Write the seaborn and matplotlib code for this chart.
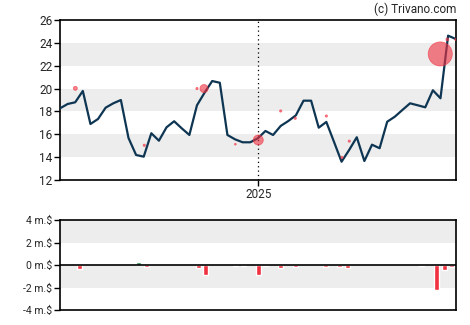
import numpy as np
import pandas as pd
import matplotlib
matplotlib.use("Agg")
import matplotlib.pyplot as plt
import seaborn as sns

# ---- data ----
week_index = list(range(53))  # weekly observations, 7 days apart
price = [18.27, 18.65, 18.80, 19.79, 16.90, 17.34, 18.33, 18.71, 19.00, 15.68,
         14.19, 14.04, 16.09, 15.44, 16.61, 17.14, 16.52, 15.94, 18.54, 19.64,
         20.66, 20.51, 15.94, 15.56, 15.30, 15.30, 15.65, 16.29, 15.94, 16.73,
         17.16, 17.66, 18.94, 18.94, 16.58, 17.08, 15.35, 13.60, 14.63, 15.74,
         13.66, 15.09, 14.78, 17.10, 17.54, 18.13, 18.71, 18.54, 18.36, 19.85,
         19.15, 24.63, 24.34]

trade_day = [14.1, 77.5, 126.0, 132.5, 161.3, 182.4, 203.0, 216.4, 245.0,
             259.4, 266.1, 349.8, 356.3, 364.0]
trade_price = [20.02, 15.04, 20.0, 20.0, 15.13, 15.5, 18.04, 17.4, 17.6,
               13.98, 15.4, 23.03, 24.3, 24.3]
trade_amount = [0.06, 0.02, 0.02, 0.25, 0.012, 0.38, 0.02, 0.02, 0.02,
                0.02, 0.02, 2.2, 0.03, 0.015]

flow_day = [17.8, 72.0, 79.4, 127.2, 133.7, 161.3, 168.6, 182.4, 189.2, 202.6,
            216.4, 244.0, 256.9, 264.3, 332.4, 346.2, 353.5, 359.9]
flow_value = [-0.33, 0.30, -0.20, -0.30, -0.85, -0.12, -0.12, -0.92, -0.12, -0.30,
              -0.20, -0.20, -0.20, -0.30, -0.10, -2.20, -0.40, -0.20]

year_tick_day = 182.4
year_tick_label = "2025"
price_ticks = [12, 14, 16, 18, 20, 22, 24, 26]
flow_ticks = [-4, -2, 0, 2, 4]

# ---- style ----
sns.set_style("white")
plt.rcParams['font.family'] = ['Roboto', 'DejaVu Sans']

fig = plt.figure(figsize=(4.7, 3.25), dpi=100)
ax1 = fig.add_axes([60/470, 1-180/325, (455.7-60)/470, 160/325])
ax2 = fig.add_axes([60/470, 1-310/325, (455.7-60)/470, 90/325])

band = '#ededed'
line_col = '#0e3653'
red = '#f0303f'
green = '#2e8b4f'

df = pd.DataFrame({"day": [i * 7 for i in week_index], "price": price})
tr = pd.DataFrame({"day": trade_day, "price": trade_price, "amount": trade_amount})
fl = pd.DataFrame({"day": flow_day, "value": flow_value})

# top chart
for lo in (14, 18, 22):
    ax1.axhspan(lo, lo + 2, color=band, lw=0, zorder=0)
ax1.axvline(year_tick_day, color='black', lw=0.9, ls=(0, (1, 2.5)), zorder=1)
sns.lineplot(data=df, x="day", y="price", ax=ax1, color=line_col, lw=1.6, zorder=3)
sns.scatterplot(data=tr, x="day", y="price", size="amount", sizes=(0, 300),
                size_norm=(0, 2.2), ax=ax1, color=red, alpha=0.6,
                edgecolor=red, linewidth=0.6, legend=False, zorder=4)
ax1.set_xlim(0, 364)
ax1.set_ylim(12, 26)
ax1.set_yticks(price_ticks)
ax1.set_xticks([year_tick_day])
ax1.set_xticklabels([year_tick_label])
ax1.set_xlabel("")
ax1.set_ylabel("")

# bottom chart
ax2.axhspan(2, 4, color=band, lw=0, zorder=0)
ax2.axhspan(-2, 0, color=band, lw=0, zorder=0)
colors = [green if v > 0 else red for v in fl["value"]]
ax2.bar(fl["day"], fl["value"], width=4.4, color=colors, zorder=2)
ax2.axhline(0, color='black', lw=1.2, zorder=3)
ax2.set_xlim(0, 364)
ax2.set_ylim(-4, 4)
ax2.set_yticks(flow_ticks)
ax2.set_yticklabels([f"{t} m.$" for t in flow_ticks])
ax2.set_xticks([])

for ax in (ax1, ax2):
    for s in ax.spines.values():
        s.set_visible(True)
        s.set_color('black')
        s.set_linewidth(1.2)
    ax.tick_params(axis='both', which='both', direction='out', length=4,
                   width=1, color='black', labelsize=8.5, pad=1.5,
                   left=True, bottom=True)
ax2.tick_params(axis='y', labelsize=7.5)

fig.text(456/470, 1-9/325, "(c) Trivano.com", ha='right', va='center', fontsize=8.5)

fig.savefig("out.png", dpi=100)
